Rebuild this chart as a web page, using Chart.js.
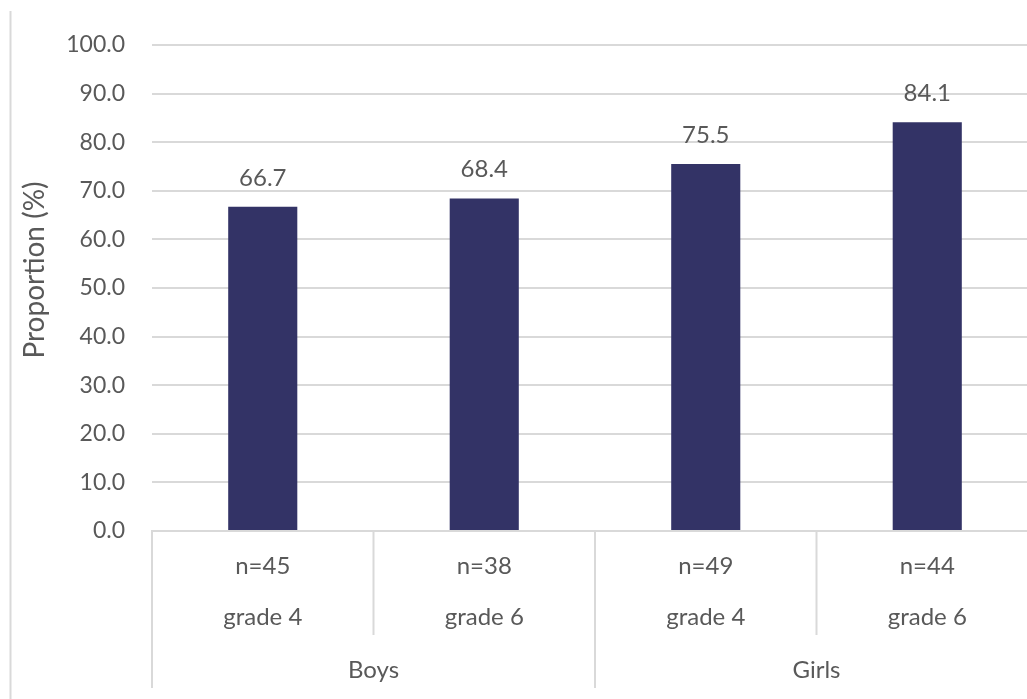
<!DOCTYPE html>
<html>
<head>
<meta charset="utf-8">
<script src="https://cdn.jsdelivr.net/npm/chart.js@4"></script>
<style>
  body { margin: 0; overflow: hidden; background: #fff; }
  #wrap { position: relative; width: 1040px; height: 699px; }
</style>
</head>
<body>
<div id="wrap"><canvas id="myChart"></canvas></div>
<script>
// values
const sampleSizes = ['n=45', 'n=38', 'n=49', 'n=44'];
const grades = ['grade 4', 'grade 6', 'grade 4', 'grade 6'];
const sexes = ['Boys', 'Boys', 'Girls', 'Girls'];
const proportions = [66.7, 68.4, 75.5, 84.1];
const yTitle = 'Proportion (%)';

const textColor = '#595959';
const lineColor = '#d9d9d9';
const fontFamily = 'Lato, "Open Sans", sans-serif';

// separators + group names under the axis, the value labels on the bars, y title
const excelAxis = {
  id: 'excelAxis',
  afterDatasetsDraw(chart) {
    const ctx = chart.ctx;
    const meta = chart.getDatasetMeta(0);
    ctx.save();
    ctx.fillStyle = textColor;
    ctx.font = '24px ' + fontFamily;
    ctx.textAlign = 'center';
    ctx.textBaseline = 'middle';
    meta.data.forEach((bar, i) => {
      ctx.fillText(proportions[i].toFixed(1), bar.x, bar.y - 29);
    });
    ctx.restore();
  },
  afterDraw(chart) {
    const ctx = chart.ctx;
    const x = chart.scales.x;
    const top = chart.chartArea.bottom;
    const n = sexes.length;
    const w = (x.right - x.left) / n;
    ctx.save();
    ctx.strokeStyle = lineColor;
    ctx.lineWidth = 2;
    for (let k = 0; k <= n; k++) {
      const px = x.left + k * w;
      const groupEdge = k === 0 || k === n || sexes[k] !== sexes[k - 1];
      ctx.beginPath();
      ctx.moveTo(px, top);
      ctx.lineTo(px, groupEdge ? 688 : 635);
      ctx.stroke();
    }
    // left chart border
    ctx.beginPath();
    ctx.moveTo(10.5, 11);
    ctx.lineTo(10.5, 699);
    ctx.stroke();

    ctx.fillStyle = textColor;
    ctx.font = '24px ' + fontFamily;
    ctx.textAlign = 'center';
    ctx.textBaseline = 'middle';
    let start = 0;
    for (let k = 1; k <= n; k++) {
      if (k === n || sexes[k] !== sexes[start]) {
        const mid = x.left + (start + k) / 2 * w;
        ctx.fillText(sexes[start], mid, 670);
        start = k;
      }
    }

    // y axis title, sits a bit above the plot centre like in Excel
    ctx.translate(35, 270);
    ctx.rotate(-Math.PI / 2);
    ctx.font = '28px ' + fontFamily;
    ctx.fillText(yTitle, 0, 0);
    ctx.restore();
  }
};

new Chart(document.getElementById('myChart'), {
  type: 'bar',
  data: {
    labels: sampleSizes.map((s, i) => [s, grades[i]]),
    datasets: [{
      data: proportions,
      backgroundColor: '#333366',
      categoryPercentage: 1,
      barPercentage: 0.312
    }]
  },
  options: {
    responsive: true,
    maintainAspectRatio: false,
    animation: false,
    layout: { padding: { left: 14, top: 45, right: 2, bottom: 0 } },
    plugins: {
      legend: { display: false },
      tooltip: { enabled: false }
    },
    scales: {
      x: {
        grid: { display: false },
        border: { display: true, color: lineColor, width: 2 },
        ticks: {
          color: textColor,
          padding: 2,
          maxRotation: 0,
          font: { family: fontFamily, size: 24, lineHeight: 51 / 24 }
        },
        afterFit(scale) { scale.height = 168; }
      },
      y: {
        min: 0,
        max: 100,
        grid: { color: lineColor, lineWidth: 2, drawTicks: false },
        border: { display: false },
        ticks: {
          stepSize: 10,
          color: textColor,
          padding: 27,
          font: { family: fontFamily, size: 23 },
          callback: v => v.toFixed(1)
        },
        afterFit(scale) { scale.width = 138; }
      }
    }
  },
  plugins: [excelAxis]
});
</script>
</body>
</html>
